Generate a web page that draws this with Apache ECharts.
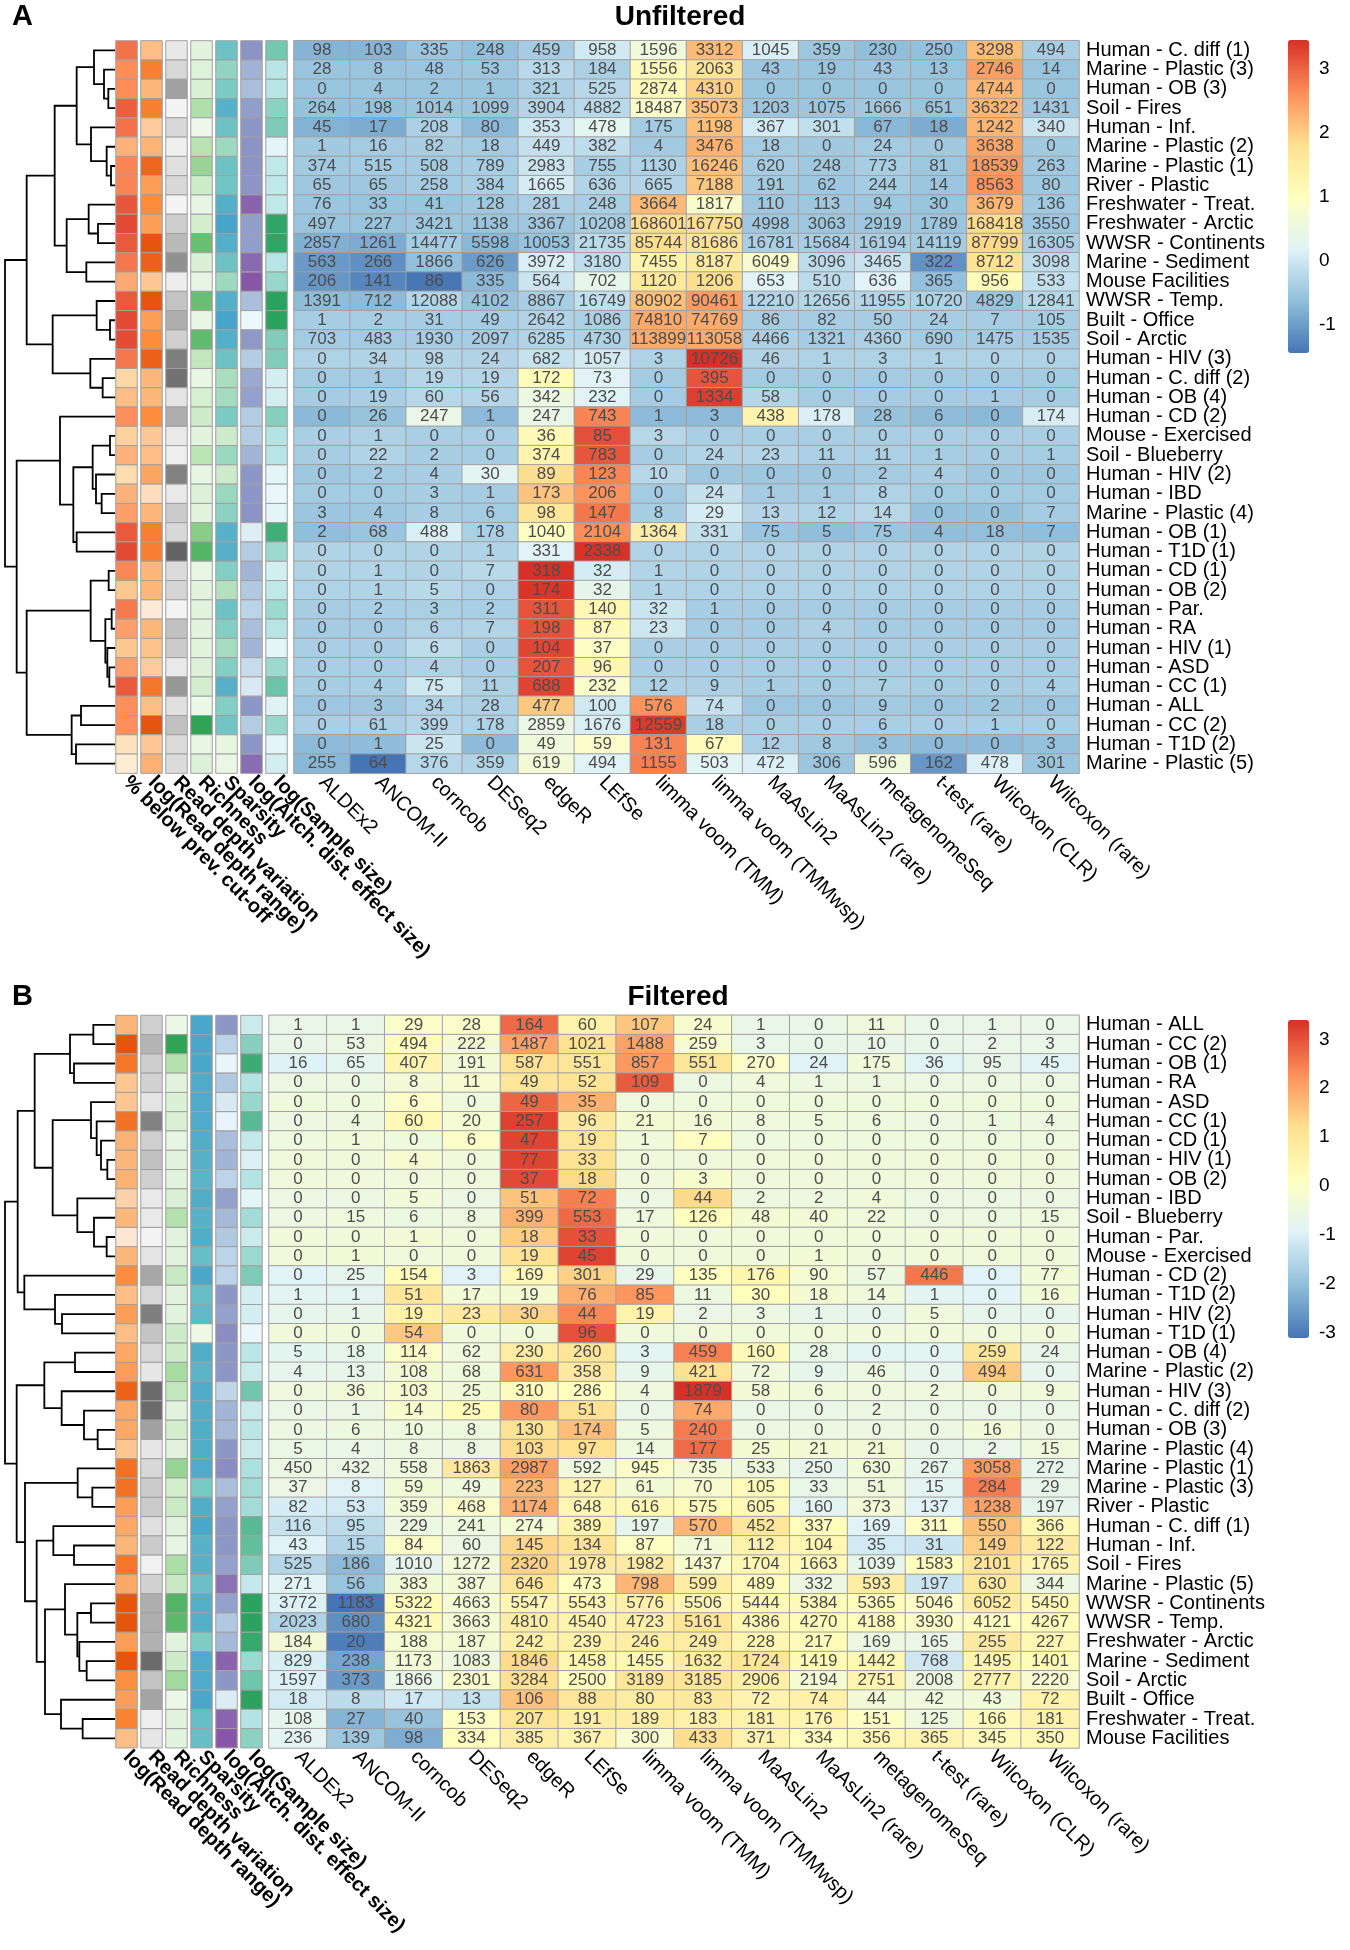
<!DOCTYPE html>
<html>
<head>
<meta charset="utf-8">
<script src="https://cdn.jsdelivr.net/npm/echarts@6/dist/echarts.min.js"></script>
<style>
  html, body { margin: 0; background: #fff; }
  #main { width: 1350px; height: 1950px; }
</style>
</head>
<body>
<div id="main"></div>
<script>
// methods (columns), same for both panels
var methods = ['ALDEx2', 'ANCOM-II', 'corncob', 'DESeq2', 'edgeR', 'LEfSe', 'limma voom (TMM)',
    'limma voom (TMMwsp)', 'MaAsLin2', 'MaAsLin2 (rare)', 'metagenomeSeq', 't-test (rare)',
    'Wilcoxon (CLR)', 'Wilcoxon (rare)'];

// ---------- panel A : unfiltered ----------
var rowsA = ['Human - C. diff (1)', 'Marine - Plastic (3)', 'Human - OB (3)', 'Soil - Fires', 'Human - Inf.',
    'Marine - Plastic (2)', 'Marine - Plastic (1)', 'River - Plastic', 'Freshwater - Treat.', 'Freshwater - Arctic',
    'WWSR - Continents', 'Marine - Sediment', 'Mouse Facilities', 'WWSR - Temp.', 'Built - Office', 'Soil - Arctic',
    'Human - HIV (3)', 'Human - C. diff (2)', 'Human - OB (4)', 'Human - CD (2)', 'Mouse - Exercised',
    'Soil - Blueberry', 'Human - HIV (2)', 'Human - IBD', 'Marine - Plastic (4)', 'Human - OB (1)',
    'Human - T1D (1)', 'Human - CD (1)', 'Human - OB (2)', 'Human - Par.', 'Human - RA', 'Human - HIV (1)',
    'Human - ASD', 'Human - CC (1)', 'Human - ALL', 'Human - CC (2)', 'Human - T1D (2)', 'Marine - Plastic (5)'];

var countsA = [
    [98, 103, 335, 248, 459, 958, 1596, 3312, 1045, 359, 230, 250, 3298, 494],
    [28, 8, 48, 53, 313, 184, 1556, 2063, 43, 19, 43, 13, 2746, 14],
    [0, 4, 2, 1, 321, 525, 2874, 4310, 0, 0, 0, 0, 4744, 0],
    [264, 198, 1014, 1099, 3904, 4882, 18487, 35073, 1203, 1075, 1666, 651, 36322, 1431],
    [45, 17, 208, 80, 353, 478, 175, 1198, 367, 301, 67, 18, 1242, 340],
    [1, 16, 82, 18, 449, 382, 4, 3476, 18, 0, 24, 0, 3638, 0],
    [374, 515, 508, 789, 2983, 755, 1130, 16246, 620, 248, 773, 81, 18539, 263],
    [65, 65, 258, 384, 1665, 636, 665, 7188, 191, 62, 244, 14, 8563, 80],
    [76, 33, 41, 128, 281, 248, 3664, 1817, 110, 113, 94, 30, 3679, 136],
    [497, 227, 3421, 1138, 3367, 10208, 168601, 167750, 4998, 3063, 2919, 1789, 168418, 3550],
    [2857, 1261, 14477, 5598, 10053, 21735, 85744, 81686, 16781, 15684, 16194, 14119, 87799, 16305],
    [563, 266, 1866, 626, 3972, 3180, 7455, 8187, 6049, 3096, 3465, 322, 8712, 3098],
    [206, 141, 86, 335, 564, 702, 1120, 1206, 653, 510, 636, 365, 956, 533],
    [1391, 712, 12088, 4102, 8867, 16749, 80902, 90461, 12210, 12656, 11955, 10720, 4829, 12841],
    [1, 2, 31, 49, 2642, 1086, 74810, 74769, 86, 82, 50, 24, 7, 105],
    [703, 483, 1930, 2097, 6285, 4730, 113899, 113058, 4466, 1321, 4360, 690, 1475, 1535],
    [0, 34, 98, 24, 682, 1057, 3, 10726, 46, 1, 3, 1, 0, 0],
    [0, 1, 19, 19, 172, 73, 0, 395, 0, 0, 0, 0, 0, 0],
    [0, 19, 60, 56, 342, 232, 0, 1334, 58, 0, 0, 0, 1, 0],
    [0, 26, 247, 1, 247, 743, 1, 3, 438, 178, 28, 6, 0, 174],
    [0, 1, 0, 0, 36, 85, 3, 0, 0, 0, 0, 0, 0, 0],
    [0, 22, 2, 0, 374, 783, 0, 24, 23, 11, 11, 1, 0, 1],
    [0, 2, 4, 30, 89, 123, 10, 0, 0, 0, 2, 4, 0, 0],
    [0, 0, 3, 1, 173, 206, 0, 24, 1, 1, 8, 0, 0, 0],
    [3, 4, 8, 6, 98, 147, 8, 29, 13, 12, 14, 0, 0, 7],
    [2, 68, 488, 178, 1040, 2104, 1364, 331, 75, 5, 75, 4, 18, 7],
    [0, 0, 0, 1, 331, 2338, 0, 0, 0, 0, 0, 0, 0, 0],
    [0, 1, 0, 7, 318, 32, 1, 0, 0, 0, 0, 0, 0, 0],
    [0, 1, 5, 0, 174, 32, 1, 0, 0, 0, 0, 0, 0, 0],
    [0, 2, 3, 2, 311, 140, 32, 1, 0, 0, 0, 0, 0, 0],
    [0, 0, 6, 7, 198, 87, 23, 0, 0, 4, 0, 0, 0, 0],
    [0, 0, 6, 0, 104, 37, 0, 0, 0, 0, 0, 0, 0, 0],
    [0, 0, 4, 0, 207, 96, 0, 0, 0, 0, 0, 0, 0, 0],
    [0, 4, 75, 11, 688, 232, 12, 9, 1, 0, 7, 0, 0, 4],
    [0, 3, 34, 28, 477, 100, 576, 74, 0, 0, 9, 0, 2, 0],
    [0, 61, 399, 178, 2859, 1676, 12559, 18, 0, 0, 6, 0, 1, 0],
    [0, 1, 25, 0, 49, 59, 131, 67, 12, 8, 3, 0, 0, 3],
    [255, 64, 376, 359, 619, 494, 1155, 503, 472, 306, 596, 162, 478, 301]
];

// row annotations (0..1)
var pctBelowA = [0.85, 0.75, 0.75, 0.92, 0.85, 0.55, 0.78, 0.78, 0.95, 1.0, 0.94, 0.83, 0.6, 0.94, 1.0, 0.99, 0.83, 0.22, 0.48,
    0.74, 0.27, 0.55, 0.18, 0.55, 0.65, 0.94, 1.0, 0.77, 0.38, 0.82, 0.65, 0.38, 0.65, 0.94, 0.74, 0.74, 0.12, 0.03];
var depthRangeA = [0.33, 0.75, 0.38, 0.75, 0.25, 0.4, 0.9, 0.55, 0.67, 0.55, 1.0, 0.93, 0.27, 1.0, 0.55, 0.67, 0.93, 0.38, 0.38,
    0.67, 0.27, 0.33, 0.5, 0.12, 0.38, 0.75, 0.75, 0.38, 0.38, 0.03, 0.38, 0.3, 0.25, 0.8, 0.33, 1.0, 0.27, 0.42];
var depthVarA = [0.12, 0.25, 0.6, 0.02, 0.24, 0.06, 0.18, 0.24, 0.02, 0.32, 0.45, 0.7, 0.08, 0.38, 0.52, 0.3, 0.82, 0.9, 0.15,
    0.52, 0.11, 0.07, 0.8, 0.11, 0.34, 0.24, 1.0, 0.22, 0.26, 0.03, 0.4, 0.34, 0.11, 0.66, 0.18, 0.4, 0.22, 0.22];
var richnessA = [0.07, 0.1, 0.13, 0.38, 0.0, 0.34, 0.5, 0.2, 0.04, 0.17, 0.72, 0.12, 0.04, 0.72, 0.03, 0.76, 0.28, 0.03, 0.14,
    0.2, 0.07, 0.32, 0.04, 0.11, 0.07, 0.57, 0.82, 0.03, 0.07, 0.08, 0.07, 0.07, 0.11, 0.17, 0.01, 1.0, 0.03, 0.11];
var sparsityA = [0.75, 0.55, 0.67, 0.88, 0.75, 0.48, 0.75, 0.72, 0.9, 0.98, 0.9, 0.75, 0.48, 0.9, 0.98, 0.9, 0.75, 0.42, 0.45,
    0.67, 0.22, 0.5, 0.22, 0.5, 0.58, 0.88, 0.89, 0.62, 0.37, 0.75, 0.62, 0.44, 0.62, 0.89, 0.62, 0.72, 0.05, 0.03];
var aitchA = [0.68, 0.5, 0.42, 0.62, 0.66, 0.68, 0.68, 0.67, 0.93, 0.62, 0.62, 0.9, 1.0, 0.42, 0.0, 0.65, 0.33, 0.55, 0.6,
    0.33, 0.33, 0.48, 0.66, 0.66, 0.68, 0.08, 0.33, 0.48, 0.35, 0.28, 0.42, 0.48, 0.22, 0.12, 0.66, 0.33, 0.66, 0.88];
var sampleSizeA = [0.6, 0.3, 0.3, 0.5, 0.56, 0.05, 0.25, 0.25, 0.25, 0.97, 0.97, 0.3, 0.45, 1.0, 1.0, 0.55, 0.55, 0.15, 0.15,
    0.52, 0.32, 0.3, 0.05, 0.02, 0.05, 0.88, 0.43, 0.15, 0.25, 0.43, 0.3, 0.05, 0.43, 0.64, 0.08, 0.45, 0.05, 0.15];

// row clustering, hclust style: negative = leaf, positive = earlier merge, then height
var dendroA = [[-3, -4, 20], [-2, 1, 33], [-1, 2, 63], [-7, -8, 12], [-6, 4, 25], [-5, 5, 72], [3, 6, 115],
    [-10, -11, 51], [-9, 8, 79], [-12, -13, 86], [9, 10, 145], [7, 11, 181], [-15, -16, 15], [-14, 13, 55],
    [-18, -19, 37], [-17, 15, 74], [14, 16, 187], [12, 17, 265], [-21, -22, 15], [-24, -25, 40], [-23, 20, 57],
    [19, 21, 67], [-26, -27, 115], [22, 23, 125], [-20, 24, 165], [-28, -29, 19], [-30, -31, 10], [-33, -34, 17],
    [-32, 28, 23], [27, 29, 29], [26, 30, 73], [-35, -36, 102], [-37, -38, 117], [32, 33, 130], [31, 34, 265],
    [25, 35, 295], [18, 36, 330]];

// ---------- panel B : filtered ----------
var rowsB = ['Human - ALL', 'Human - CC (2)', 'Human - OB (1)', 'Human - RA', 'Human - ASD', 'Human - CC (1)',
    'Human - CD (1)', 'Human - HIV (1)', 'Human - OB (2)', 'Human - IBD', 'Soil - Blueberry', 'Human - Par.',
    'Mouse - Exercised', 'Human - CD (2)', 'Human - T1D (2)', 'Human - HIV (2)', 'Human - T1D (1)', 'Human - OB (4)',
    'Marine - Plastic (2)', 'Human - HIV (3)', 'Human - C. diff (2)', 'Human - OB (3)', 'Marine - Plastic (4)',
    'Marine - Plastic (1)', 'Marine - Plastic (3)', 'River - Plastic', 'Human - C. diff (1)', 'Human - Inf.',
    'Soil - Fires', 'Marine - Plastic (5)', 'WWSR - Continents', 'WWSR - Temp.', 'Freshwater - Arctic',
    'Marine - Sediment', 'Soil - Arctic', 'Built - Office', 'Freshwater - Treat.', 'Mouse Facilities'];

var countsB = [
    [1, 1, 29, 28, 164, 60, 107, 24, 1, 0, 11, 0, 1, 0],
    [0, 53, 494, 222, 1487, 1021, 1488, 259, 3, 0, 10, 0, 2, 3],
    [16, 65, 407, 191, 587, 551, 857, 551, 270, 24, 175, 36, 95, 45],
    [0, 0, 8, 11, 49, 52, 109, 0, 4, 1, 1, 0, 0, 0],
    [0, 0, 6, 0, 49, 35, 0, 0, 0, 0, 0, 0, 0, 0],
    [0, 4, 60, 20, 257, 96, 21, 16, 8, 5, 6, 0, 1, 4],
    [0, 1, 0, 6, 47, 19, 1, 7, 0, 0, 0, 0, 0, 0],
    [0, 0, 4, 0, 77, 33, 0, 0, 0, 0, 0, 0, 0, 0],
    [0, 0, 0, 0, 37, 18, 0, 3, 0, 0, 0, 0, 0, 0],
    [0, 0, 5, 0, 51, 72, 0, 44, 2, 2, 4, 0, 0, 0],
    [0, 15, 6, 8, 399, 553, 17, 126, 48, 40, 22, 0, 0, 15],
    [0, 0, 1, 0, 18, 33, 0, 0, 0, 0, 0, 0, 0, 0],
    [0, 1, 0, 0, 19, 45, 0, 0, 0, 1, 0, 0, 0, 0],
    [0, 25, 154, 3, 169, 301, 29, 135, 176, 90, 57, 446, 0, 77],
    [1, 1, 51, 17, 19, 76, 85, 11, 30, 18, 14, 1, 0, 16],
    [0, 1, 19, 23, 30, 44, 19, 2, 3, 1, 0, 5, 0, 0],
    [0, 0, 54, 0, 0, 96, 0, 0, 0, 0, 0, 0, 0, 0],
    [5, 18, 114, 62, 230, 260, 3, 459, 160, 28, 0, 0, 259, 24],
    [4, 13, 108, 68, 631, 358, 9, 421, 72, 9, 46, 0, 494, 0],
    [0, 36, 103, 25, 310, 286, 4, 1879, 58, 6, 0, 2, 0, 9],
    [0, 1, 14, 25, 80, 51, 0, 74, 0, 0, 2, 0, 0, 0],
    [0, 6, 10, 8, 130, 174, 5, 240, 0, 0, 0, 0, 16, 0],
    [5, 4, 8, 8, 103, 97, 14, 177, 25, 21, 21, 0, 2, 15],
    [450, 432, 558, 1863, 2987, 592, 945, 735, 533, 250, 630, 267, 3058, 272],
    [37, 8, 59, 49, 223, 127, 61, 70, 105, 33, 51, 15, 284, 29],
    [82, 53, 359, 468, 1174, 648, 616, 575, 605, 160, 373, 137, 1238, 197],
    [116, 95, 229, 241, 274, 389, 197, 570, 452, 337, 169, 311, 550, 366],
    [43, 15, 84, 60, 145, 134, 87, 71, 112, 104, 35, 31, 149, 122],
    [525, 186, 1010, 1272, 2320, 1978, 1982, 1437, 1704, 1663, 1039, 1583, 2101, 1765],
    [271, 56, 383, 387, 646, 473, 798, 599, 489, 332, 593, 197, 630, 344],
    [3772, 1183, 5322, 4663, 5547, 5543, 5776, 5506, 5444, 5384, 5365, 5046, 6052, 5450],
    [2023, 680, 4321, 3663, 4810, 4540, 4723, 5161, 4386, 4270, 4188, 3930, 4121, 4267],
    [184, 20, 188, 187, 242, 239, 246, 249, 228, 217, 169, 165, 255, 227],
    [829, 238, 1173, 1083, 1846, 1458, 1455, 1632, 1724, 1419, 1442, 768, 1495, 1401],
    [1597, 373, 1866, 2301, 3284, 2500, 3189, 3185, 2906, 2194, 2751, 2008, 2777, 2220],
    [18, 8, 17, 13, 106, 88, 80, 83, 72, 74, 44, 42, 43, 72],
    [108, 27, 40, 153, 207, 191, 189, 183, 181, 176, 151, 125, 166, 181],
    [236, 139, 98, 334, 385, 367, 300, 433, 371, 334, 356, 365, 345, 350]
];

var depthRangeB = [0.38, 1.0, 0.8, 0.28, 0.28, 0.83, 0.42, 0.38, 0.42, 0.2, 0.38, 0.04, 0.38, 0.67, 0.33, 0.55, 0.33, 0.48, 0.55,
    0.92, 0.48, 0.48, 0.28, 0.83, 0.83, 0.55, 0.48, 0.38, 0.8, 0.48, 1.0, 1.0, 0.55, 1.0, 0.65, 0.55, 0.73, 0.33];
var depthVarB = [0.3, 0.48, 0.32, 0.29, 0.15, 0.8, 0.31, 0.4, 0.3, 0.11, 0.11, 0.02, 0.15, 0.56, 0.25, 0.82, 0.38, 0.25, 0.13,
    0.95, 0.95, 0.6, 0.13, 0.24, 0.34, 0.34, 0.18, 0.34, 0.05, 0.29, 0.52, 0.52, 0.5, 0.95, 0.38, 0.58, 0.07, 0.13];
var richnessB = [0.01, 1.0, 0.36, 0.08, 0.12, 0.13, 0.04, 0.08, 0.08, 0.13, 0.36, 0.08, 0.08, 0.24, 0.08, 0.08, 0.2, 0.2, 0.42,
    0.28, 0.07, 0.17, 0.08, 0.5, 0.17, 0.23, 0.08, 0.04, 0.4, 0.24, 0.83, 0.78, 0.07, 0.2, 0.45, 0.01, 0.07, 0.07];
var sparsityB = [0.96, 0.96, 0.96, 0.93, 0.93, 0.93, 0.91, 0.88, 0.86, 0.91, 0.88, 0.91, 0.78, 0.96, 0.78, 0.82, 0.02, 0.91, 0.86,
    0.93, 0.91, 0.91, 0.91, 0.93, 0.69, 0.91, 0.96, 0.88, 0.88, 0.76, 0.9, 0.9, 0.65, 0.93, 0.93, 0.96, 0.78, 0.78];
var aitchB = [0.66, 0.28, 0.02, 0.36, 0.12, 0.03, 0.42, 0.48, 0.28, 0.6, 0.45, 0.36, 0.28, 0.28, 0.66, 0.6, 0.72, 0.66, 0.66,
    0.26, 0.48, 0.45, 0.66, 0.72, 0.42, 0.6, 0.66, 0.66, 0.6, 0.85, 0.6, 0.36, 0.45, 0.93, 0.66, 0.1, 0.92, 1.0];
var sampleSizeB = [0.2, 0.52, 0.9, 0.32, 0.45, 0.74, 0.23, 0.1, 0.32, 0.05, 0.4, 0.2, 0.43, 0.56, 0.15, 0.15, 0.02, 0.28, 0.2,
    0.62, 0.2, 0.28, 0.2, 0.35, 0.4, 0.4, 0.74, 0.7, 0.56, 0.23, 1.0, 1.0, 0.93, 0.43, 0.63, 1.0, 0.32, 0.5];

var dendroB = [[-1, -2, 65], [-3, -4, 123], [1, 2, 135], [-8, -9, 23], [-7, 4, 42], [-6, 5, 55], [-5, 6, 72],
    [-12, -13, 25], [-11, 8, 63], [-10, 9, 113], [7, 10, 187], [3, 11, 241], [-16, -17, 159], [-15, 13, 180],
    [-14, 14, 272], [12, 15, 292], [-18, -19, 120], [-22, -23, 52], [-21, 18, 93], [-20, 19, 160], [17, 20, 212],
    [-25, -26, 68], [-24, 22, 112], [-28, -29, 123], [-27, 24, 185], [-31, -32, 72], [-34, -35, 85], [-33, 27, 107],
    [26, 28, 113], [-30, 29, 150], [-37, -38, 97], [-36, 31, 162], [30, 32, 210], [25, 33, 235], [23, 34, 270],
    [21, 35, 295], [16, 36, 330]];

// ---------- palettes ----------
var rdylbu = ['#4575B4', '#91BFDB', '#E0F3F8', '#FFFFBF', '#FEE090', '#FC8D59', '#D73027'];
var pal = {
    pct: ['#fef0d9', '#fdd49e', '#fdbb84', '#fc8d59', '#e34a33'],
    range: ['#feedde', '#fdbe85', '#fd8d3c', '#e6550d'],
    vari: ['#f7f7f7', '#cccccc', '#969696', '#636363'],
    rich: ['#edf8e9', '#bae4b3', '#74c476', '#31a354'],
    spars: ['#f0f9e8', '#bae4bc', '#7bccc4', '#43a2ca'],
    aitch: ['#edf8fb', '#b3cde3', '#8c96c6', '#8856a7'],
    size: ['#edf8fb', '#b2e2e2', '#66c2a4', '#2ca25f']
};

var font = '"Liberation Sans", Arial, Helvetica, sans-serif';
var rowH = 19.28;
var hmRight = 1079;

var grids = [], xAxes = [], yAxes = [], series = [], visualMaps = [], graphics = [];

function annotCell(params, api) {
    var c = api.coord([api.value(0), api.value(1)]);
    var s = api.size([1, 1]);
    return {
        type: 'rect',
        shape: { x: c[0] - s[0] / 2 + 1.75, y: c[1] - s[1] / 2, width: s[0] - 3.5, height: s[1] },
        style: { fill: api.visual('color'), stroke: '#a0a0a0', lineWidth: 1 }
    };
}

function dendroLink(params, api) {
    // node (h, y), left child (hl, yl), right child (hr, yr)
    var h = api.value(0);
    var a = api.coord([api.value(2), api.value(3)]);
    var b = api.coord([h, api.value(3)]);
    var c = api.coord([h, api.value(5)]);
    var d = api.coord([api.value(4), api.value(5)]);
    return {
        type: 'polyline',
        shape: { points: [a, b, c, d] },
        style: { stroke: '#000', lineWidth: 1.8, fill: null }
    };
}

function addPanel(cfg) {
    var n = cfg.rows.length;
    var top = cfg.top, height = rowH * n;

    // row-wise z-scores for colouring
    var hm = [], zmin = Infinity, zmax = -Infinity;
    cfg.counts.forEach(function (row, r) {
        var mean = row.reduce(function (a, b) { return a + b; }, 0) / row.length;
        var sd = Math.sqrt(row.reduce(function (a, b) { return a + (b - mean) * (b - mean); }, 0) / (row.length - 1));
        row.forEach(function (v, c) {
            var z = (v - mean) / sd;
            if (z < zmin) zmin = z;
            if (z > zmax) zmax = z;
            hm.push([c, r, z, v]);
        });
    });

    // dendrogram
    var g = grids.length;
    grids.push({ left: 5, top: top, width: 110, height: height });
    xAxes.push({ gridIndex: g, type: 'value', min: 0, max: 330, inverse: true, show: false });
    yAxes.push({ gridIndex: g, type: 'value', min: 0, max: n, inverse: true, show: false });
    var pos = [], links = [];
    cfg.dendro.forEach(function (m) {
        var ch = [m[0], m[1]].map(function (id) {
            return id < 0 ? [0, -id - 0.5] : pos[id - 1];
        });
        var node = [m[2], (ch[0][1] + ch[1][1]) / 2];
        pos.push(node);
        links.push([node[0], node[1], ch[0][0], ch[0][1], ch[1][0], ch[1][1]]);
    });
    series.push({ type: 'custom', xAxisIndex: g, yAxisIndex: g, silent: true, data: links, renderItem: dendroLink });

    // annotation columns
    g = grids.length;
    var na = cfg.annot.length;
    grids.push({ left: 114, top: top, width: 25 * na, height: height });
    xAxes.push({
        gridIndex: g, type: 'category', data: cfg.annot.map(function (a) { return a.name; }),
        axisLine: { show: false }, axisTick: { show: false },
        axisLabel: { rotate: -45, interval: 0, margin: 6, fontSize: 20, fontWeight: 'bold', color: '#000', fontFamily: font }
    });
    yAxes.push({ gridIndex: g, type: 'category', data: cfg.rows, inverse: true, show: false });
    cfg.annot.forEach(function (a, k) {
        visualMaps.push({
            show: false, type: 'continuous', min: 0, max: 1, dimension: 2,
            seriesIndex: series.length, inRange: { color: a.colors }
        });
        series.push({
            type: 'custom', xAxisIndex: g, yAxisIndex: g, silent: true,
            data: a.vals.map(function (v, r) { return [k, r, v]; }),
            renderItem: annotCell
        });
    });

    // main heatmap
    g = grids.length;
    grids.push({ left: cfg.hmLeft, top: top, width: hmRight - cfg.hmLeft, height: height });
    xAxes.push({
        gridIndex: g, type: 'category', data: methods,
        axisLine: { show: false }, axisTick: { show: false }, splitArea: { show: false },
        axisLabel: { rotate: -45, interval: 0, margin: 6, fontSize: 20, color: '#000', fontFamily: font }
    });
    yAxes.push({
        gridIndex: g, type: 'category', data: cfg.rows, inverse: true, position: 'right',
        axisLine: { show: false }, axisTick: { show: false }, splitArea: { show: false },
        axisLabel: { interval: 0, margin: 7, fontSize: 20, color: '#000', fontFamily: font }
    });
    visualMaps.push({
        type: 'continuous', min: zmin, max: zmax, dimension: 2, seriesIndex: series.length,
        calculable: false, inRange: { color: rdylbu }, text: null, showLabel: false,
        left: 1288, top: cfg.barTop, itemWidth: 21, itemHeight: cfg.barH, padding: 0
    });
    series.push({
        type: 'heatmap', xAxisIndex: g, yAxisIndex: g, data: hm, progressive: 0,
        label: {
            show: true, fontSize: 17, color: '#4d4d4d', fontFamily: font,
            formatter: function (p) { return p.data[3]; }
        },
        itemStyle: { borderColor: '#a0a0a0', borderWidth: 1 },
        emphasis: { disabled: true }
    });

    // colour bar tick labels
    var ppu = cfg.barH / (zmax - zmin);
    var lo = Math.floor(zmin), hi = Math.ceil(zmax);
    g = grids.length;
    grids.push({ left: 1288, width: 21, top: cfg.barTop - (hi - zmax) * ppu, height: (hi - lo) * ppu });
    xAxes.push({ gridIndex: g, type: 'value', show: false });
    yAxes.push({
        gridIndex: g, type: 'value', min: lo, max: hi, interval: 1, position: 'right',
        axisLine: { show: false }, axisTick: { show: false }, splitLine: { show: false },
        axisLabel: { showMinLabel: false, showMaxLabel: false, margin: 10, fontSize: 19, color: '#000', fontFamily: font }
    });

    // panel letter + title
    graphics.push({
        type: 'text', x: 12, y: cfg.titleY,
        style: { text: cfg.letter, font: 'bold 29px ' + font, fill: '#000', align: 'left', verticalAlign: 'middle' }
    });
    graphics.push({
        type: 'text', x: cfg.titleX, y: cfg.titleY,
        style: { text: cfg.title, font: 'bold 28px ' + font, fill: '#000', align: 'center', verticalAlign: 'middle' }
    });
}

addPanel({
    letter: 'A', title: 'Unfiltered', titleX: 680, titleY: 17,
    top: 40.7, hmLeft: 294, barTop: 40, barH: 313,
    rows: rowsA, counts: countsA, dendro: dendroA,
    annot: [
        { name: '% below prev. cut-off', vals: pctBelowA, colors: pal.pct },
        { name: 'log(Read depth range)', vals: depthRangeA, colors: pal.range },
        { name: 'Read depth variation', vals: depthVarA, colors: pal.vari },
        { name: 'Richness', vals: richnessA, colors: pal.rich },
        { name: 'Sparsity', vals: sparsityA, colors: pal.spars },
        { name: 'log(Aitch. dist. effect size)', vals: aitchA, colors: pal.aitch },
        { name: 'log(Sample size)', vals: sampleSizeA, colors: pal.size }
    ]
});

addPanel({
    letter: 'B', title: 'Filtered', titleX: 678, titleY: 997,
    top: 1015.3, hmLeft: 269, barTop: 1020, barH: 318,
    rows: rowsB, counts: countsB, dendro: dendroB,
    annot: [
        { name: 'log(Read depth range)', vals: depthRangeB, colors: pal.range },
        { name: 'Read depth variation', vals: depthVarB, colors: pal.vari },
        { name: 'Richness', vals: richnessB, colors: pal.rich },
        { name: 'Sparsity', vals: sparsityB, colors: pal.spars },
        { name: 'log(Aitch. dist. effect size)', vals: aitchB, colors: pal.aitch },
        { name: 'log(Sample size)', vals: sampleSizeB, colors: pal.size }
    ]
});

var chart = echarts.init(document.getElementById('main'), null, { renderer: 'canvas' });
chart.setOption({
    backgroundColor: '#fff',
    animation: false,
    textStyle: { fontFamily: font },
    grid: grids,
    xAxis: xAxes,
    yAxis: yAxes,
    visualMap: visualMaps,
    series: series,
    graphic: graphics
});
</script>
</body>
</html>
